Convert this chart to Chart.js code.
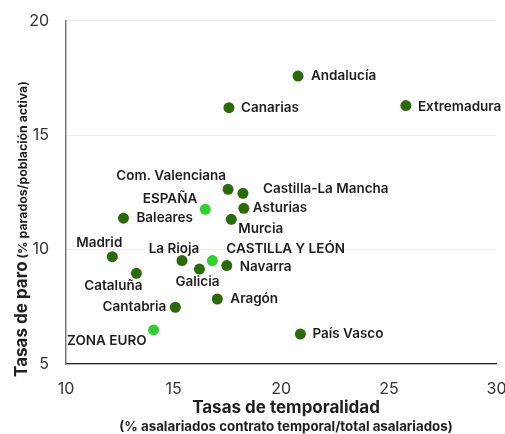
<!DOCTYPE html>
<html>
<head>
<meta charset="utf-8">
<script src="https://cdn.jsdelivr.net/npm/chart.js@4/dist/chart.umd.min.js"></script>
<style>
  html, body { margin: 0; padding: 0; background: #fff; }
  #wrap { width: 505px; height: 434px; }
</style>
</head>
<body>
<div id="wrap"><canvas id="c" width="505" height="434"></canvas></div>
<script>
// ---- Data ----
const regions = ["Andalucía","Canarias","Extremadura","Com. Valenciana","Castilla-La Mancha","ESPAÑA","Asturias","Baleares","Murcia","Madrid","La Rioja","CASTILLA Y LEÓN","Navarra","Galicia","Cataluña","Aragón","Cantabria","ZONA EURO","País Vasco"];
const temporalidad = [20.78,17.57,25.79,17.53,18.22,16.47,18.26,12.67,17.68,12.15,15.39,16.80,17.47,16.20,13.27,17.03,15.08,14.07,20.89];
const paro = [17.58,16.20,16.29,12.63,12.46,11.76,11.80,11.37,11.32,9.69,9.52,9.52,9.30,9.15,8.96,7.84,7.48,6.49,6.31];
const highlighted = ["ESPAÑA","CASTILLA Y LEÓN","ZONA EURO"];
const xTicks = [10,15,20,25,30];
const yTicks = [5,10,15,20];

// ---- Label placement (style only) ----
const labelPlacement = {
  "Andalucía": [13,0,"left"], "Canarias": [12,0,"left"], "Extremadura": [12,1,"left"],
  "Com. Valenciana": [-2,-13,"right"], "Castilla-La Mancha": [20,-4,"left"],
  "ESPAÑA": [-8,-10,"right"], "Asturias": [9,0,"left"], "Baleares": [13,0,"left"],
  "Murcia": [7,10,"left"], "Madrid": [-13,-14,"center"], "La Rioja": [-8,-12,"center"],
  "CASTILLA Y LEÓN": [14,-12,"left"], "Navarra": [13,1,"left"], "Galicia": [-2,13,"center"],
  "Cataluña": [-23,13,"center"], "Aragón": [13,0,"left"], "Cantabria": [-9,0,"right"],
  "ZONA EURO": [-7,11,"right"], "País Vasco": [12,0,"left"]
};

const DARK = "#2a6a08", LIGHT = "#2fd12f";
const points = regions.map((r,i)=>({x: temporalidad[i], y: paro[i], label: r}));
const colors = regions.map(r => highlighted.includes(r) ? LIGHT : DARK);
const FONT = "Inter, 'Open Sans', sans-serif";

const labelPlugin = {
  id: 'labels',
  afterDatasetsDraw(chart) {
    const ctx = chart.ctx;
    const meta = chart.getDatasetMeta(0);
    ctx.save();
    ctx.font = "600 13.5px " + FONT;
    ctx.fillStyle = "#1e1e1e";
    ctx.textBaseline = "middle";
    meta.data.forEach((el, i) => {
      const p = labelPlacement[regions[i]] || [10,0,"left"];
      ctx.textAlign = p[2];
      ctx.fillText(regions[i], el.x + p[0], el.y + p[1]);
    });
    ctx.restore();
  },
  afterDraw(chart) {
    const ctx = chart.ctx;
    const cx = 286;
    ctx.save();
    ctx.fillStyle = "#1e1e1e";
    ctx.textAlign = "center";
    ctx.textBaseline = "middle";
    ctx.font = "700 17px " + FONT;
    ctx.fillText("Tasas de temporalidad", cx, 408);
    ctx.font = "700 13.3px " + FONT;
    ctx.fillText("(% asalariados contrato temporal/total asalariados)", cx, 427);
    // y title
    const t1 = "Tasas de paro", t2 = " (% parados/población activa)";
    ctx.font = "700 17px " + FONT;
    const w1 = ctx.measureText(t1).width;
    ctx.font = "700 12.3px " + FONT;
    const w2 = ctx.measureText(t2).width;
    const total = w1 + w2;
    ctx.translate(27, 229);
    ctx.rotate(-Math.PI/2);
    ctx.textAlign = "left";
    ctx.textBaseline = "alphabetic";
    ctx.font = "700 17px " + FONT;
    ctx.fillText(t1, -total/2, 0);
    ctx.font = "700 12.3px " + FONT;
    ctx.fillText(t2, -total/2 + w1, 0);
    ctx.restore();
  }
};

new Chart(document.getElementById('c'), {
  type: 'scatter',
  data: { datasets: [{
    data: points,
    backgroundColor: colors,
    borderColor: colors,
    pointRadius: 5.5,
    pointHoverRadius: 5.5,
    borderWidth: 0
  }]},
  options: {
    responsive: false,
    animation: false,
    events: [],
    layout: { padding: { top: 20.7, right: 8.5, left: 0, bottom: 0 } },
    plugins: { legend: { display: false }, tooltip: { enabled: false } },
    scales: {
      x: {
        type: 'linear', min: 10, max: 30,
        afterBuildTicks: s => { s.ticks = xTicks.map(v => ({value: v})); },
        ticks: { color: "#333", font: { family: FONT, size: 16 }, padding: 16 },
        grid: { display: false, drawTicks: false },
        border: { display: true, color: "#222", width: 1.2 },
        afterFit: s => { s.height = 70; s.paddingLeft = 0; s.paddingRight = 0; }
      },
      y: {
        type: 'linear', min: 5, max: 20,
        afterBuildTicks: s => { s.ticks = yTicks.map(v => ({value: v})); },
        ticks: { color: "#333", font: { family: FONT, size: 16 }, padding: 17 },
        grid: { color: "#ececec", lineWidth: 1, drawTicks: false },
        border: { display: true, color: "#777", width: 1.5 },
        afterFit: s => { s.width = 66; s.paddingTop = 0; s.paddingBottom = 0; }
      }
    }
  },
  plugins: [labelPlugin]
});
</script>
</body>
</html>
